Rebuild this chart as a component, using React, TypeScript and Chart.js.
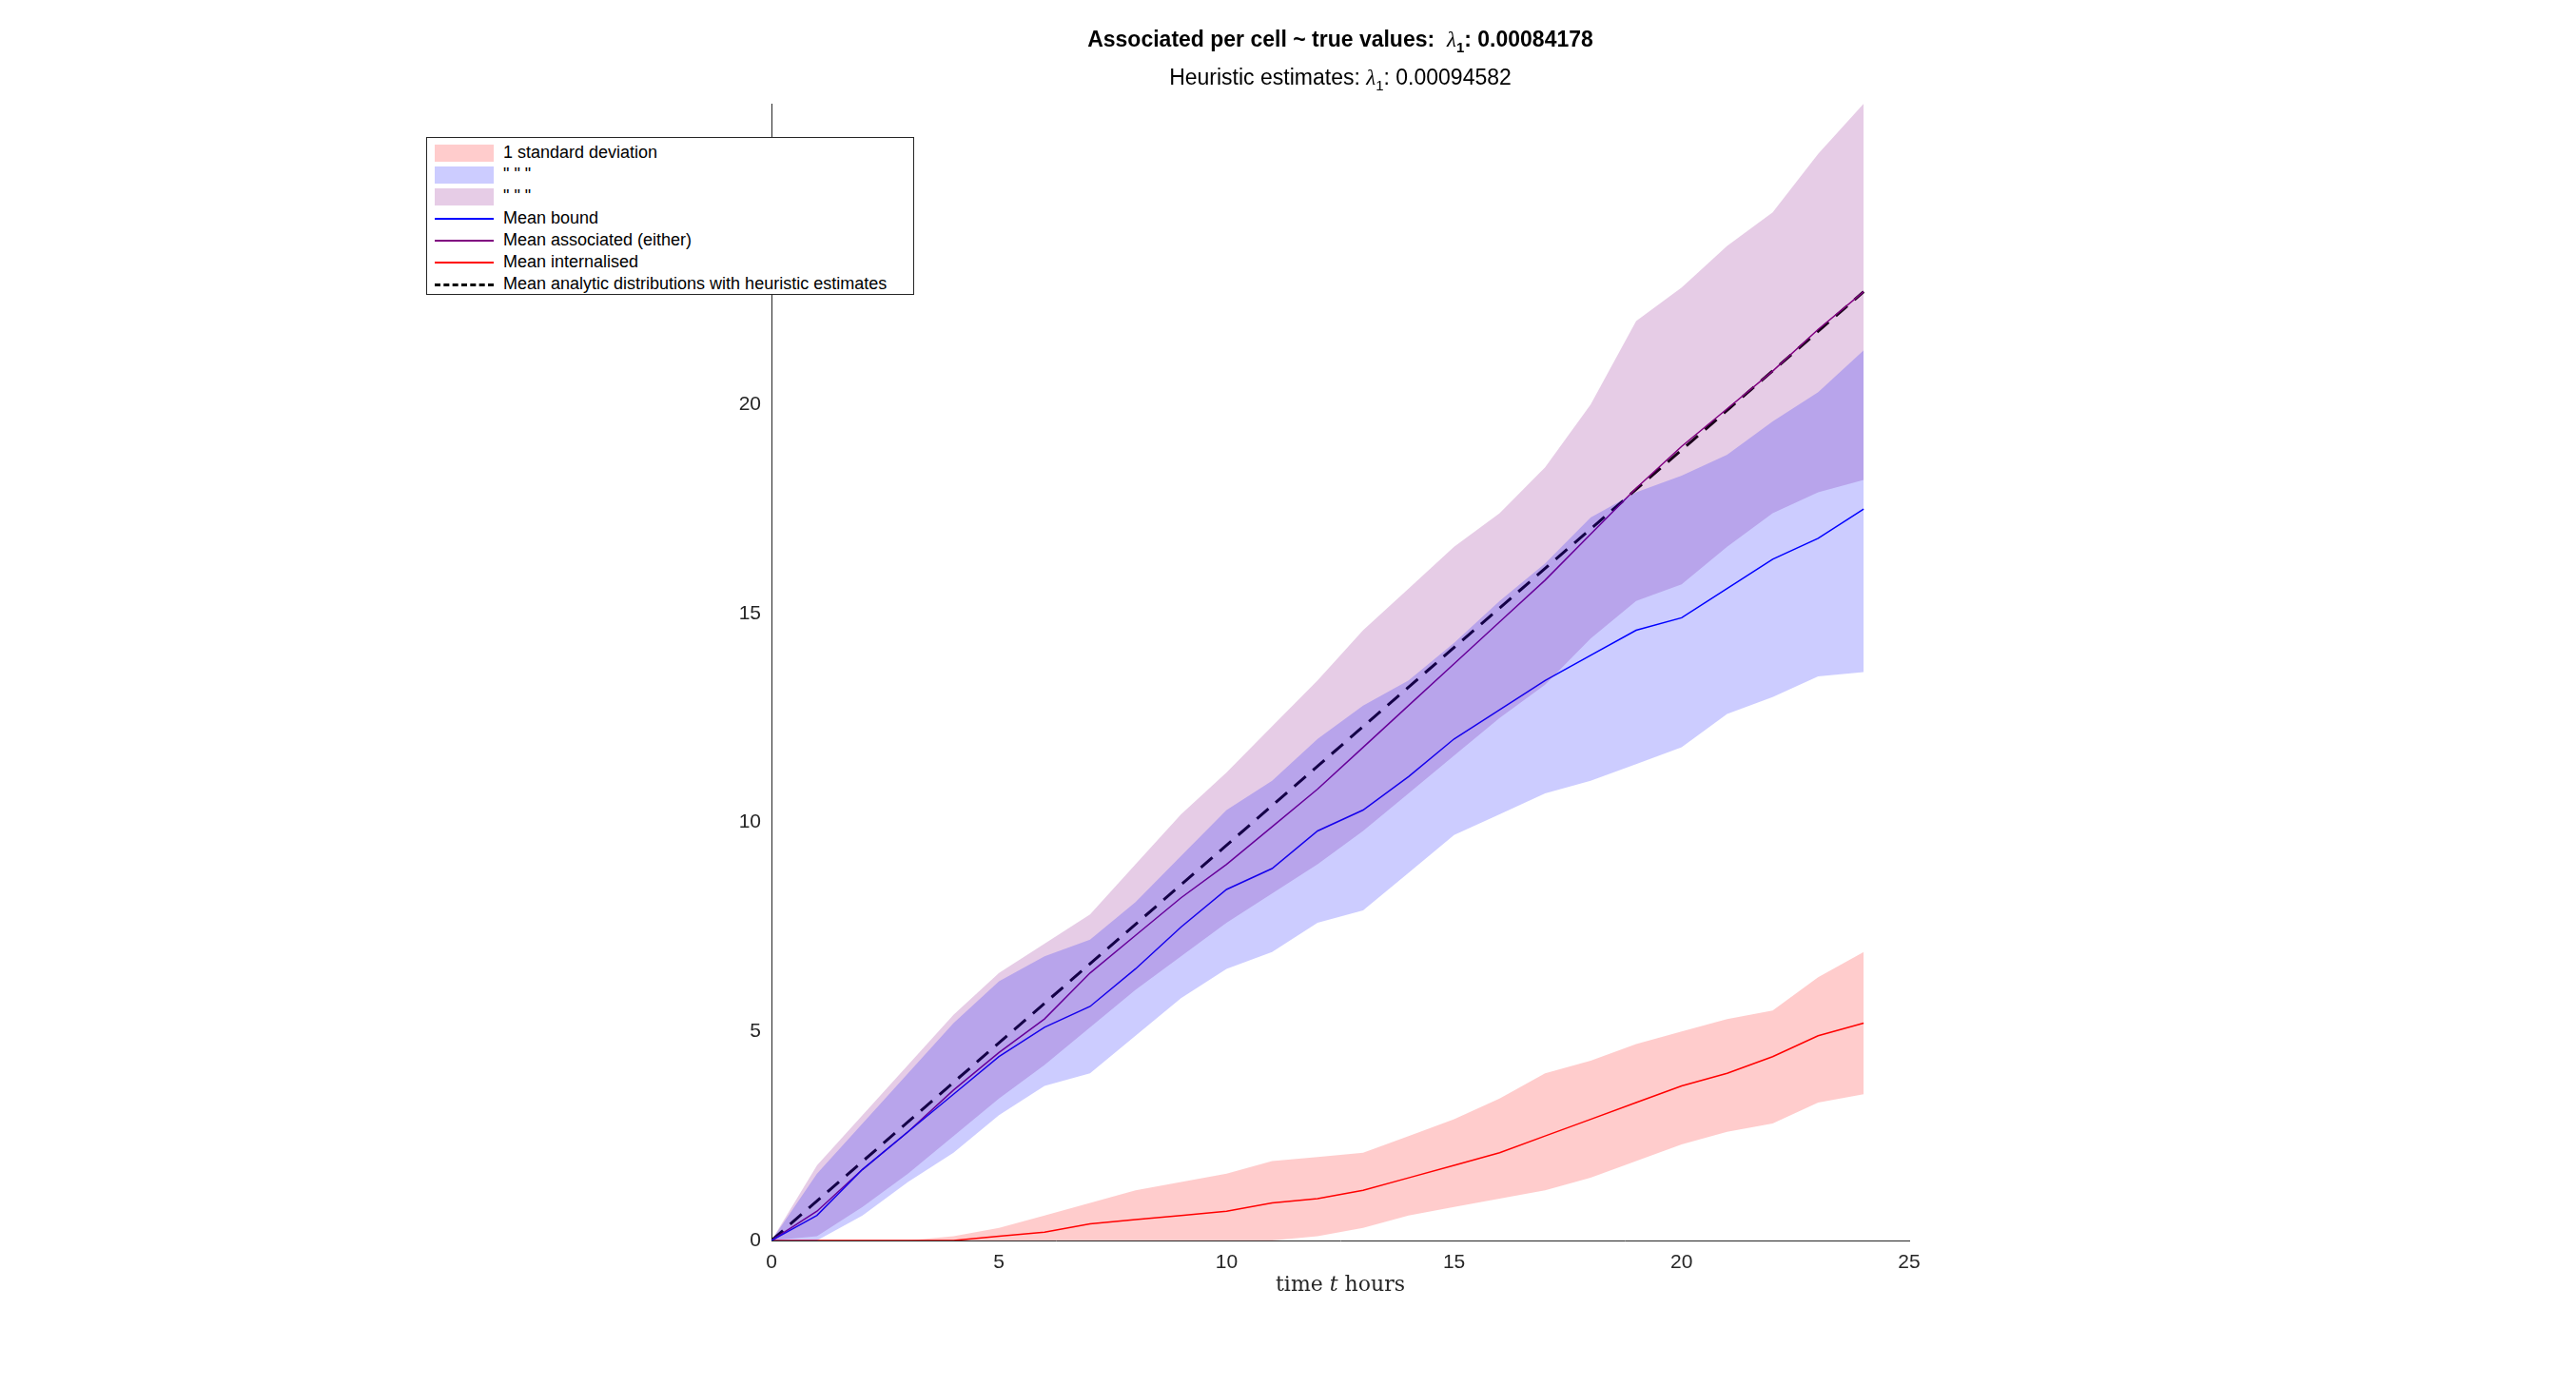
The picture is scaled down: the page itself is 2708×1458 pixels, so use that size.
import React, { useEffect, useRef } from "react";
import { Chart, registerables } from "chart.js";
Chart.register(...registerables);

const hours = [0,1,2,3,4,5,6,7,8,9,10,11,12,13,14,15,16,17,18,19,20,21,22,23,24];
const meanAssociated = [0,0.7,1.7,2.6,3.6,4.5,5.3,6.4,7.3,8.2,9.0,9.9,10.8,11.8,12.8,13.8,14.8,15.8,16.9,18.0,19.0,19.9,20.8,21.8,22.7];
const meanBound = [0,0.6,1.7,2.6,3.5,4.4,5.1,5.6,6.5,7.5,8.4,8.9,9.8,10.3,11.1,12.0,12.7,13.4,14.0,14.6,14.9,15.6,16.3,16.8,17.5];
const meanInternalised = [0,0,0,0,0,0.1,0.2,0.4,0.5,0.6,0.7,0.9,1.0,1.2,1.5,1.8,2.1,2.5,2.9,3.3,3.7,4.0,4.4,4.9,5.2];
const redUpper = [0,0,0,0,0.1,0.3,0.6,0.9,1.2,1.4,1.6,1.9,2.0,2.1,2.5,2.9,3.4,4.0,4.3,4.7,5.0,5.3,5.5,6.3,6.9];
const redLower = [0,0,0,0,0,0,0,0,0,0,0,0,0.1,0.3,0.6,0.8,1.0,1.2,1.5,1.9,2.3,2.6,2.8,3.3,3.5];
const blueUpper = [0,1.6,2.8,4.0,5.2,6.2,6.8,7.2,8.1,9.2,10.3,11.0,12.0,12.8,13.4,14.3,15.3,16.2,17.3,17.9,18.3,18.8,19.6,20.3,21.3];
const blueLower = [0,0,0.6,1.4,2.1,3.0,3.7,4.0,4.9,5.8,6.5,6.9,7.6,7.9,8.8,9.7,10.2,10.7,11.0,11.4,11.8,12.6,13.0,13.5,13.6];
const purpleUpper = [0,1.8,3.0,4.2,5.4,6.4,7.1,7.8,9.0,10.2,11.2,12.3,13.4,14.6,15.6,16.6,17.4,18.5,20.0,22.0,22.8,23.8,24.6,26.0,27.2];
const purpleLower = [0,0.1,0.8,1.6,2.5,3.4,4.2,5.1,6.0,6.8,7.6,8.3,9.0,9.8,10.7,11.6,12.5,13.3,14.4,15.3,15.7,16.6,17.4,17.9,18.2];
const analyticT = [0, 24];
const analyticY = [0, 22.7];

const pts = (ys: number[], xs: number[] = hours) => xs.map((x, i) => ({ x, y: ys[i] }));

export default function App() {
  const ref = useRef<HTMLCanvasElement>(null);
  useEffect(() => {
    const line = (data: any, color: string, extra: any = {}) => ({
      data, borderColor: color, borderWidth: 1.5, pointRadius: 0, tension: 0, fill: false, ...extra,
    });
    const band = (lo: number[], hi: number[], color: string) => [
      line(pts(lo), "transparent", { borderWidth: 0 }),
      line(pts(hi), "transparent", { borderWidth: 0, fill: "-1", backgroundColor: color }),
    ];
    const chart = new Chart(ref.current!, {
      type: "line",
      data: {
        datasets: [
          ...band(redLower, redUpper, "rgba(255,0,0,0.2)"),
          ...band(blueLower, blueUpper, "rgba(0,0,255,0.2)"),
          ...band(purpleLower, purpleUpper, "rgba(128,0,128,0.2)"),
          line(pts(meanBound), "#0000ff"),
          line(pts(meanAssociated), "#800080"),
          line(pts(meanInternalised), "#ff0000"),
          line(pts(analyticY, analyticT), "#000000", { borderDash: [16, 10], borderWidth: 3 }),
        ] as any,
      },
      options: {
        animation: false,
        responsive: false,
        layout: { padding: { left: 751, right: 701, top: 109, bottom: 74 } },
        plugins: { legend: { display: false }, tooltip: { enabled: false } },
        scales: {
          x: {
            type: "linear", min: 0, max: 25,
            ticks: { stepSize: 5, color: "#262626", font: { size: 21, family: "Liberation Sans" } },
            grid: { display: false, drawTicks: true, tickLength: 8 },
            border: { color: "#262626" },
            afterFit: (s: any) => { s.height = 80; },
          },
          y: {
            min: 0, max: 27.2,
            ticks: { stepSize: 5, color: "#262626", font: { size: 21, family: "Liberation Sans" } },
            afterBuildTicks: (s: any) => { s.ticks = s.ticks.filter((t: any) => t.value <= 20); },
            grid: { display: false, tickLength: 8 },
            border: { color: "#262626" },
            afterFit: (s: any) => { s.width = 60; },
          },
        },
      },
    });
    return () => chart.destroy();
  }, []);

  const sw = (c: string) => <span style={{ display: "inline-block", width: 62, height: 18, background: c, marginRight: 10, verticalAlign: "middle" }} />;
  const ln = (c: string, dash = false) => (
    <span style={{ display: "inline-block", width: 62, height: 0, borderTop: dash ? "3px dashed #000" : `2px solid ${c}`, marginRight: 10, verticalAlign: "middle" }} />
  );
  const row = (icon: any, text: string) => (
    <div style={{ height: 23, lineHeight: "23px", whiteSpace: "nowrap" }}>{icon}{text}</div>
  );
  return (
    <div style={{ position: "absolute", left: 0, top: 0, width: 2708, height: 1458, background: "#fff", fontFamily: "Liberation Sans, Arial, sans-serif" }}>
      <canvas ref={ref} width={2708} height={1458} style={{ position: "absolute", left: 0, top: 0 }} />
      <div style={{ position: "absolute", left: 811, width: 1196, top: 28, textAlign: "center", fontSize: 23, fontWeight: "bold", color: "#000" }}>
        Associated per cell ~ true values:&nbsp; <i style={{ fontFamily: "serif", fontWeight: "normal" }}>λ</i><sub style={{ fontSize: 15 }}>1</sub>: 0.00084178
      </div>
      <div style={{ position: "absolute", left: 811, width: 1196, top: 68, textAlign: "center", fontSize: 23, color: "#000" }}>
        Heuristic estimates: <i style={{ fontFamily: "serif" }}>λ</i><sub style={{ fontSize: 15 }}>1</sub>: 0.00094582
      </div>
      <div style={{ position: "absolute", left: 448, top: 144, width: 513, height: 166, border: "1.5px solid #262626", background: "#fff", fontSize: 18, color: "#000", padding: "4px 8px", boxSizing: "border-box" }}>
        {row(sw("#ffcccc"), "1 standard deviation")}
        {row(sw("#ccccff"), "\" \" \"")}
        {row(sw("#e6cce6"), "\" \" \"")}
        {row(ln("#0000ff"), "Mean bound")}
        {row(ln("#800080"), "Mean associated (either)")}
        {row(ln("#ff0000"), "Mean internalised")}
        {row(ln("#000", true), "Mean analytic distributions with heuristic estimates")}
      </div>
      <div style={{ position: "absolute", left: 811, width: 1196, top: 1337, textAlign: "center", fontSize: 22, fontFamily: "DejaVu Serif, serif", color: "#262626" }}>
        time <i>t</i> hours
      </div>
    </div>
  );
}
